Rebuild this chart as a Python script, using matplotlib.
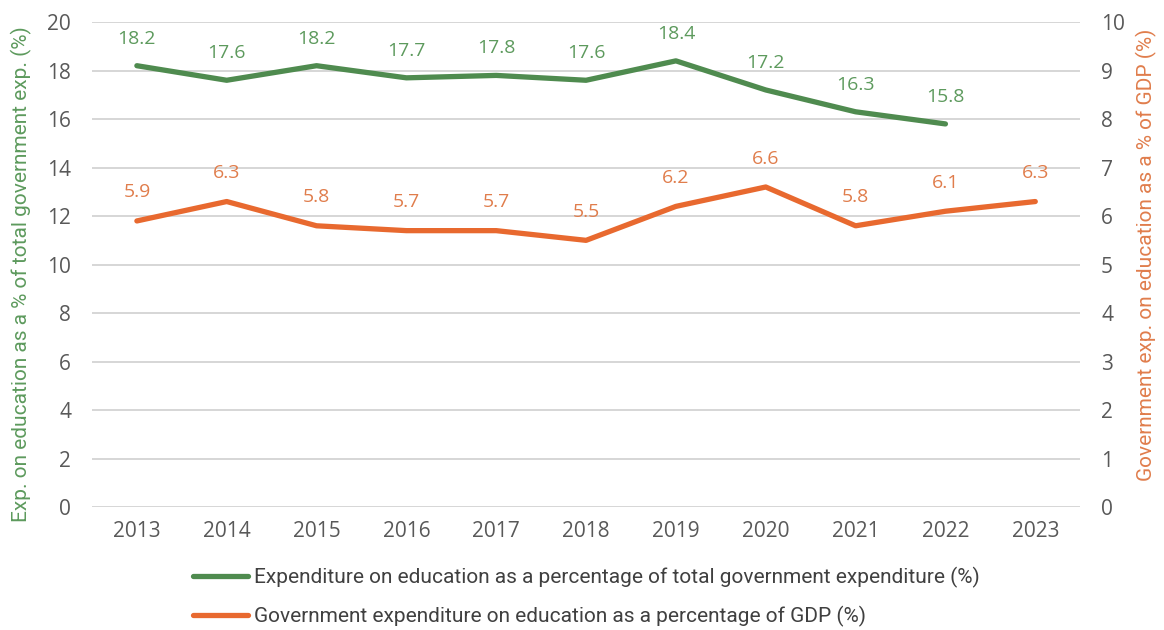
import matplotlib
matplotlib.use("Agg")
import matplotlib.pyplot as plt

years = ["2013", "2014", "2015", "2016", "2017", "2018", "2019", "2020", "2021", "2022", "2023"]
share_total = [18.2, 17.6, 18.2, 17.7, 17.8, 17.6, 18.4, 17.2, 16.3, 15.8]
share_gdp = [5.9, 6.3, 5.8, 5.7, 5.7, 5.5, 6.2, 6.6, 5.8, 6.1, 6.3]

green = "#4f8b4f"
green_txt = "#5d9a5d"
orange = "#e8692f"
orange_txt = "#e07d4c"
tick_col = "#595959"

plt.rcParams["font.family"] = ["Open Sans", "DejaVu Sans"]
narrow = "Roboto"

fig = plt.figure(figsize=(11.64, 6.30), dpi=100)
ax = fig.add_axes([0.079, 0.195, 0.849, 0.77])
ax2 = ax.twinx()

x1 = list(range(len(share_total)))
x2 = list(range(len(share_gdp)))

l1, = ax.plot(x1, share_total, color=green, lw=3.8, solid_capstyle="round",
              label="Expenditure on education as a percentage of total government expenditure (%)")
l2, = ax2.plot(x2, share_gdp, color=orange, lw=3.8, solid_capstyle="round",
               label="Government expenditure on education as a percentage of GDP (%)")

for x, v in zip(x1, share_total):
    ax.annotate(f"{v:.1f}", (x, v), xytext=(0, 19.5), textcoords="offset points",
                ha="center", va="center", fontsize=14, color=green_txt)
for x, v in zip(x2, share_gdp):
    ax2.annotate(f"{v:.1f}", (x, v), xytext=(0, 20.5), textcoords="offset points",
                 ha="center", va="center", fontsize=14, color=orange_txt)

ax.set_xlim(-0.5, len(years) - 0.5)
ax.set_ylim(0, 20)
ax2.set_ylim(0, 10)
ax.set_yticks(range(0, 21, 2))
ax2.set_yticks(range(0, 11, 1))
ax.set_xticks(range(len(years)))
ax.set_xticklabels(years)

ax.grid(axis="y", color="#d0d0d0", lw=1.2)
ax.set_axisbelow(True)
for a in (ax, ax2):
    for s in a.spines.values():
        s.set_visible(False)
    a.tick_params(length=0, labelsize=15, colors=tick_col)
ax.tick_params(axis="x", pad=10)
ax.tick_params(axis="y", pad=15)
ax2.tick_params(axis="y", pad=15)

ax.set_ylabel("Exp. on education as a % of total government exp. (%)", color=green_txt,
              fontsize=15, fontfamily=narrow)
ax2.set_ylabel("Government exp. on education as a % of GDP (%)", color=orange_txt,
               fontsize=15, fontfamily=narrow, rotation=90)
ax.yaxis.set_label_coords(-0.061, 0.48)
ax2.yaxis.set_label_coords(1.056, 0.52)

fig.legend(handles=[l1, l2], loc="upper left", bbox_to_anchor=(0.15, 0.13),
           frameon=False, ncol=1, handlelength=2.6, handletextpad=0.3,
           labelspacing=0.85, prop={"family": narrow, "size": 15},
           labelcolor="#404040")

fig.savefig("out.png", dpi=100)
